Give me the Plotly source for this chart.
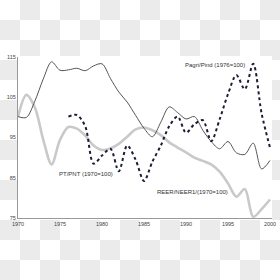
import plotly.graph_objects as go

# ---- data ----
years = list(range(1970, 2001))
pt_pnt = [100.2, 100.0, 104.0, 109.5, 113.8, 111.7, 111.8, 112.2, 111.6, 112.8,
          113.3, 109.7, 106.3, 103.8, 100.5, 97.3, 95.2, 98.8, 102.6, 101.2,
          99.6, 100.2, 96.8, 94.0, 92.2, 94.0, 91.2, 90.8, 93.6, 87.2, 89.3]
reer_neer = [100.2, 105.6, 102.5, 94.5, 88.3, 94.4, 97.6, 97.2, 95.5, 93.0,
             91.9, 92.3, 93.4, 95.2, 97.0, 97.5, 96.8, 95.6, 93.8, 92.5,
             91.3, 90.0, 89.2, 88.3, 86.5, 83.6, 80.3, 82.2, 75.3, 77.2, 79.6]
pagri_years = list(range(1976, 2001))
pagri_pind = [100.2, 100.6, 97.8, 88.5, 90.5, 92.2, 86.6, 93.0, 89.5, 84.2,
              89.0, 93.0, 97.8, 100.2, 96.2, 98.3, 99.3, 94.1, 99.5, 105.8,
              110.5, 107.0, 113.3, 101.0, 92.5]

x_ticks = [1970, 1975, 1980, 1985, 1990, 1995, 2000]
y_ticks = [75, 85, 95, 105, 115]

labels = ["PT/PNT (1970=100)", "REER/NEER1/(1970=100)", "Pagri/Pind (1976=100)"]
label_pos = [(1978.1, 85.9), (1990.8, 81.5), (1993.5, 113.0)]

# ---- layout geometry (pixels) ----
W, H = 280, 280
L, R, T, B = 18, 8, 57, 62
PW, PH = W - L - R, H - T - B


def px(x):
    return (x - L) / PW


def py(y):
    return 1 - (y - T) / PH


fig = go.Figure()
fig.add_trace(go.Scatter(x=years, y=reer_neer, mode="lines",
                         line=dict(color="#c9c9c9", width=2.6, shape="spline", smoothing=0.9),
                         hoverinfo="skip"))
fig.add_trace(go.Scatter(x=years, y=pt_pnt, mode="lines",
                         line=dict(color="#555555", width=1, shape="spline", smoothing=0.9),
                         hoverinfo="skip"))
fig.add_trace(go.Scatter(x=pagri_years, y=pagri_pind, mode="lines",
                         line=dict(color="#1c1c35", width=2, dash="dot", shape="spline", smoothing=0.9),
                         hoverinfo="skip"))

shapes = []
sq = 20
for r in range(H // sq):
    for c in range(W // sq):
        if (r + c) % 2 == 1:
            shapes.append(dict(type="rect", xref="paper", yref="paper", layer="below",
                               x0=px(c * sq), x1=px((c + 1) * sq),
                               y0=py((r + 1) * sq), y1=py(r * sq),
                               line=dict(width=0), fillcolor="#ebebeb"))
shapes.append(dict(type="rect", xref="paper", yref="paper", layer="below",
                   x0=px(17), x1=px(272), y0=py(220), y1=py(56),
                   line=dict(width=0), fillcolor="white"))

annotations = [dict(x=x, y=y, text=t, showarrow=False, xref="x", yref="y",
                    font=dict(family="Liberation Sans, Arial", size=6, color="#333333"))
               for t, (x, y) in zip(labels, label_pos)]

fig.update_layout(
    width=W, height=H,
    margin=dict(l=L, r=R, t=T, b=B, pad=0, autoexpand=False),
    paper_bgcolor="white", plot_bgcolor="rgba(0,0,0,0)",
    showlegend=False,
    shapes=shapes,
    annotations=annotations,
    font=dict(family="Liberation Sans, Arial", size=5.5, color="#444444"),
    xaxis=dict(range=[1970, 1970 + PW / 8.4], tickvals=x_ticks, ticktext=[str(v) for v in x_ticks],
               showgrid=False, zeroline=False, showline=True, linecolor="#999999", linewidth=1,
               ticks="", tickfont=dict(size=5.5, color="#444444")),
    yaxis=dict(range=[75, 115], tickvals=y_ticks, showgrid=False, zeroline=False,
               showline=True, linecolor="#999999", linewidth=1, ticks="",
               tickfont=dict(size=5.5, color="#444444")),
)

fig.write_html("out.html")
